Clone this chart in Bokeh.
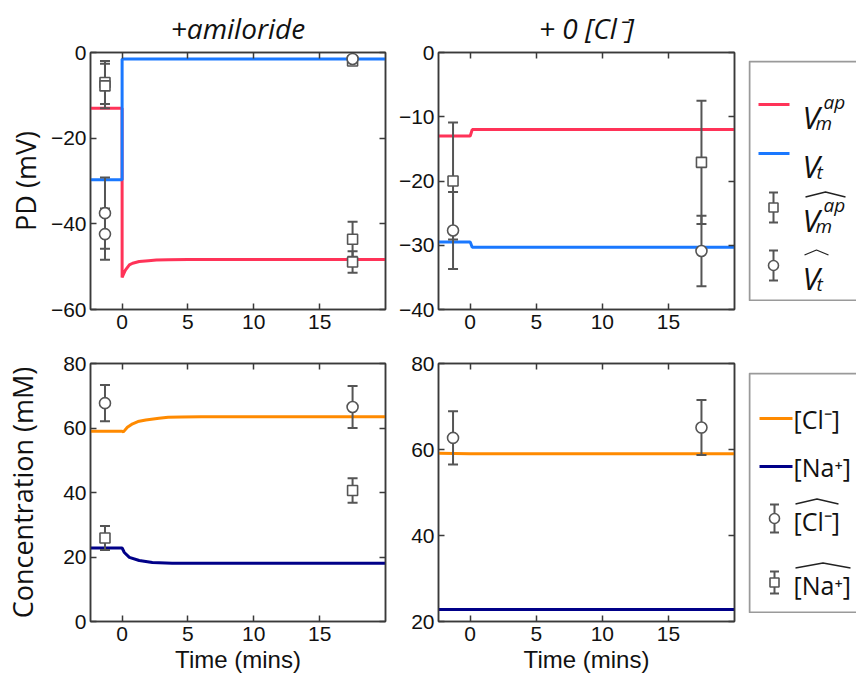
from bokeh.plotting import figure
from bokeh.models import (Range1d, FixedTicker, LinearAxis, CustomJSTickFormatter, Spacer,
                          CustomLabelingPolicy)
from bokeh.layouts import row, column
from bokeh.core.properties import value
from bokeh.embed import file_html
from bokeh.resources import INLINE

# ---------------- data ----------------
# +amiloride, potential difference (mV)
t_vm_amil = [-2.4, 0, 0, 0.1, 0.25, 0.55, 0.8, 1.3, 2.0, 2.6, 3.5, 5, 10, 20]
vm_amil = [-13.0, -13.0, -52.5, -51.8, -50.8, -49.6, -49.2, -48.8, -48.6, -48.45, -48.4, -48.35, -48.3, -48.3]
t_vt_amil = [-2.4, 0, 0, 20]
vt_amil = [-29.7, -29.7, -1.5, -1.5]
# measured (hat) values, +amiloride PD
sq_amil_x = [-1.3, -1.3, 17.5, 17.5, 17.5]
sq_amil_y = [-7.0, -7.8, -43.6, -48.9, -2.0]
sq_amil_e = [5.0, 5.2, 4.1, 2.5, 0.8]
ci_amil_x = [-1.3, -1.3, 17.5]
ci_amil_y = [-37.5, -42.4, -1.5]
ci_amil_e = [8.3, 6.0, 0.6]

# +0 [Cl-], potential difference (mV)
t_vm_cl0 = [-2.4, 0, 0.15, 20]
vm_cl0 = [-13.0, -13.0, -12.0, -12.0]
t_vt_cl0 = [-2.4, 0, 0.15, 20]
vt_cl0 = [-29.5, -29.5, -30.3, -30.3]
sq_cl0_x = [-1.3, 17.5]
sq_cl0_y = [-20.0, -17.1]
sq_cl0_e = [9.1, 9.6]
ci_cl0_x = [-1.3, 17.5]
ci_cl0_y = [-27.7, -30.9]
ci_cl0_e = [6.0, 5.5]

# +amiloride, concentrations (mM)
t_cl_amil = [-2.4, 0, 0.1, 0.4, 0.8, 1.2, 1.8, 2.8, 3.5, 4.5, 6, 20]
cl_amil = [59.0, 59.0, 58.8, 60.2, 61.3, 62.0, 62.5, 63.0, 63.3, 63.4, 63.5, 63.5]
t_na_amil = [-2.4, 0, 0.17, 0.55, 1.3, 2.3, 3.8, 20]
na_amil = [22.8, 22.8, 21.4, 19.9, 18.9, 18.3, 18.1, 18.1]
cic_amil_x = [-1.3, 17.5]
cic_amil_y = [67.7, 66.5]
cic_amil_e = [5.6, 6.5]
sqc_amil_x = [-1.3, 17.5]
sqc_amil_y = [25.9, 40.6]
sqc_amil_e = [3.7, 3.8]

# +0 [Cl-], concentrations (mM)
t_cl_cl0 = [-2.4, 0, 20]
cl_cl0 = [59.1, 59.0, 59.0]
t_na_cl0 = [-2.4, 0, 20]
na_cl0 = [22.8, 22.8, 22.8]
cic_cl0_x = [-1.3, 17.5]
cic_cl0_y = [62.7, 65.1]
cic_cl0_e = [6.2, 6.4]

x_ticks = [0, 5, 10, 15]

# ---------------- style ----------------
RED = "#ff3358"
BLUE = "#1a78ff"
ORANGE = "#ff8a00"
NAVY = "#000088"
GREY = "#555555"
AX = "#3a3a3a"
TICK_FONT = "Liberation Sans"
LAB_FONT = "Open Sans"

minus_fmt = CustomJSTickFormatter(code="return tick < 0 ? '\\u2212' + Math.abs(tick) : '' + tick;")


def make_panel(fw, fh, yr, yticks, mb, title=None, ylabel=None, xlabel=None, ylab_standoff=8):
    p = figure(frame_width=fw, frame_height=fh, x_range=Range1d(-2.4, 20), y_range=Range1d(*yr),
               output_backend="svg", toolbar_location=None,
               min_border_left=mb[0], min_border_right=mb[1], min_border_top=mb[2], min_border_bottom=mb[3])
    p.grid.visible = False
    p.outline_line_color = AX
    p.outline_line_width = 1.5
    p.background_fill_color = "white"
    p.border_fill_color = "white"
    right_ax = LinearAxis()
    top_ax = LinearAxis()
    p.add_layout(right_ax, "right")
    p.add_layout(top_ax, "above")
    bottom_ax = p.below[0]
    left_ax = p.left[0]
    bottom_ax.ticker = FixedTicker(ticks=x_ticks)
    top_ax.ticker = FixedTicker(ticks=x_ticks)
    for ax in (left_ax, right_ax):
        ax.ticker = FixedTicker(ticks=yticks)
        ax.formatter = minus_fmt
    for ax in (bottom_ax, top_ax, left_ax, right_ax):
        ax.major_tick_in = 6
        ax.major_tick_out = 0
        ax.minor_tick_line_color = None
        ax.axis_line_color = AX
        ax.axis_line_width = 1.5
        ax.major_tick_line_color = AX
        ax.major_tick_line_width = 1.5
        ax.major_label_text_font = TICK_FONT
        ax.major_label_text_font_size = "21px"
        ax.major_label_text_color = "#111111"
    bottom_ax.major_label_standoff = 5
    left_ax.major_label_standoff = 4
    for ax in (right_ax, top_ax):
        ax.major_label_text_font_size = "1px"
        ax.major_label_standoff = 0
        ax.major_label_policy = CustomLabelingPolicy(code="return new Set()")
    if ylabel:
        left_ax.axis_label = ylabel
        left_ax.axis_label_text_font = LAB_FONT
        left_ax.axis_label_text_font_size = "27px"
        left_ax.axis_label_text_font_style = "normal"
        left_ax.axis_label_text_color = "#111111"
        left_ax.axis_label_standoff = ylab_standoff
    if xlabel:
        bottom_ax.axis_label = xlabel
        bottom_ax.axis_label_text_font = TICK_FONT
        bottom_ax.axis_label_text_font_size = "24px"
        bottom_ax.axis_label_text_font_style = "normal"
        bottom_ax.axis_label_text_color = "#111111"
        bottom_ax.axis_label_standoff = 2
    if title:
        p.title.text = title
        p.title.text_font = LAB_FONT
        p.title.text_font_size = "28px"
        p.title.text_font_style = "italic"
        p.title.text_color = "#111111"
        p.title.align = "center"
        p.title.offset = 0
        p.title.standoff = 3
    return p


def err_points(p, xs, ys, es, marker):
    lo = [y - e for y, e in zip(ys, es)]
    hi = [y + e for y, e in zip(ys, es)]
    p.segment(x0=xs, y0=lo, x1=xs, y1=hi, line_color=GREY, line_width=2)
    p.scatter(x=xs + xs, y=lo + hi, marker="dash", size=10, line_color=GREY, line_width=2)
    p.scatter(x=xs, y=ys, marker=marker, size=10 if marker == "square" else 11,
              fill_color="white", line_color=GREY, line_width=1.6)


# top-left: +amiloride PD
p1 = make_panel(295, 257, (-60, 0), [-60, -40, -20, 0], (90, 7, 52, 33),
                title="+amiloride", ylabel="PD (mV)", ylab_standoff=4)
p1.line(t_vm_amil, vm_amil, line_color=RED, line_width=3)
p1.line(t_vt_amil, vt_amil, line_color=BLUE, line_width=3)
err_points(p1, sq_amil_x, sq_amil_y, sq_amil_e, "square")
err_points(p1, ci_amil_x, ci_amil_y, ci_amil_e, "circle")

# top-right: +0 [Cl-] PD
p2 = make_panel(296, 257, (-40, 0), [-40, -30, -20, -10, 0], (46, 14, 52, 33),
                title="+ 0 [Cl\u207b]")
p2.line(t_vm_cl0, vm_cl0, line_color=RED, line_width=3)
p2.line(t_vt_cl0, vt_cl0, line_color=BLUE, line_width=3)
err_points(p2, sq_cl0_x, sq_cl0_y, sq_cl0_e, "square")
err_points(p2, ci_cl0_x, ci_cl0_y, ci_cl0_e, "circle")

# bottom-left: +amiloride concentrations
p3 = make_panel(295, 258, (0, 80), [0, 20, 40, 60, 80], (90, 7, 21, 58),
                ylabel="Concentration (mM)", xlabel="Time (mins)", ylab_standoff=19)
p3.line(t_cl_amil, cl_amil, line_color=ORANGE, line_width=3)
p3.line(t_na_amil, na_amil, line_color=NAVY, line_width=3)
err_points(p3, cic_amil_x, cic_amil_y, cic_amil_e, "circle")
err_points(p3, sqc_amil_x, sqc_amil_y, sqc_amil_e, "square")

# bottom-right: +0 [Cl-] concentrations
p4 = make_panel(296, 258, (20, 80), [20, 40, 60, 80], (46, 14, 21, 58), xlabel="Time (mins)")
p4.line(t_cl_cl0, cl_cl0, line_color=ORANGE, line_width=3)
p4.line(t_na_cl0, na_cl0, line_color=NAVY, line_width=3)
err_points(p4, cic_cl0_x, cic_cl0_y, cic_cl0_e, "circle")


# ---------------- legends ----------------
LW = 108


def legend_fig():
    f = figure(width=LW, height=241, x_range=Range1d(0, LW), y_range=Range1d(241, 0),
               x_axis_location=None, y_axis_location=None, toolbar_location=None,
               output_backend="svg", min_border=0)
    f.grid.visible = False
    f.outline_line_color = None
    f.background_fill_color = "white"
    f.border_fill_color = "white"
    # box open on the right (cut by the page edge)
    f.line([LW, 1, 1, LW], [1, 1, 240, 240], line_color="#9a9a9a", line_width=2)
    return f


def leg_err(f, x, y, marker, half):
    f.segment(x0=[x], y0=[y - half], x1=[x], y1=[y + half], line_color=GREY, line_width=2)
    f.scatter(x=[x, x], y=[y - half, y + half], marker="dash", size=9, line_color=GREY, line_width=2)
    f.scatter(x=[x], y=[y], marker=marker, size=9 if marker == "square" else 10,
              fill_color="white", line_color=GREY, line_width=1.6)


def txt(f, x, y, s, size, italic=True, baseline="alphabetic"):
    f.text(x=[x], y=[y], text=[s], text_font=value(LAB_FONT), text_font_size=size,
           text_font_style="italic" if italic else "normal", text_color="#111111",
           text_baseline=baseline, text_align="left")


def hat(f, x0, x1, y):
    xm = (x0 + x1) / 2
    f.line([x0, xm, x1], [y + 2.5, y - 2.5, y + 2.5], line_color="#222222", line_width=1.3)


L1 = legend_fig()
L1.line([10, 41], [44, 44], line_color=RED, line_width=3)
txt(L1, 54, 56, "V", "31px")
txt(L1, 67, 62, "m", "19px")
txt(L1, 75, 41, "ap", "19px")
L1.line([10, 41], [93, 93], line_color=BLUE, line_width=3)
txt(L1, 54, 105, "V", "31px")
txt(L1, 68, 111, "t", "19px")
leg_err(L1, 25, 147, "square", 15)
hat(L1, 57, 97, 134)
txt(L1, 54, 159, "V", "31px")
txt(L1, 67, 165, "m", "19px")
txt(L1, 75, 144, "ap", "19px")
leg_err(L1, 25, 205, "circle", 15)
hat(L1, 56, 80, 192)
txt(L1, 54, 217, "V", "31px")
txt(L1, 68, 223, "t", "19px")

L2 = legend_fig()
L2.line([11, 44], [46, 46], line_color=ORANGE, line_width=3)
txt(L2, 45, 46, "[Cl\u207b]", "25px", italic=False, baseline="middle")
L2.line([11, 44], [94, 94], line_color=NAVY, line_width=3)
txt(L2, 45, 94, "[Na\u207a]", "25px", italic=False, baseline="middle")
leg_err(L2, 26, 146, "circle", 14)
hat(L2, 47, 90, 129)
txt(L2, 45, 148, "[Cl\u207b]", "25px", italic=False, baseline="middle")
leg_err(L2, 26, 210, "square", 11)
hat(L2, 47, 102, 193)
txt(L2, 45, 212, "[Na\u207a]", "25px", italic=False, baseline="middle")

top = row(p1, p2, column(Spacer(width=LW, height=60), L1, Spacer(width=LW, height=41)))
bottom = row(p3, p4, column(Spacer(width=LW, height=30), L2, Spacer(width=LW, height=66)))
layout = column(top, bottom)

open("out.html", "w").write(file_html(layout, INLINE))
